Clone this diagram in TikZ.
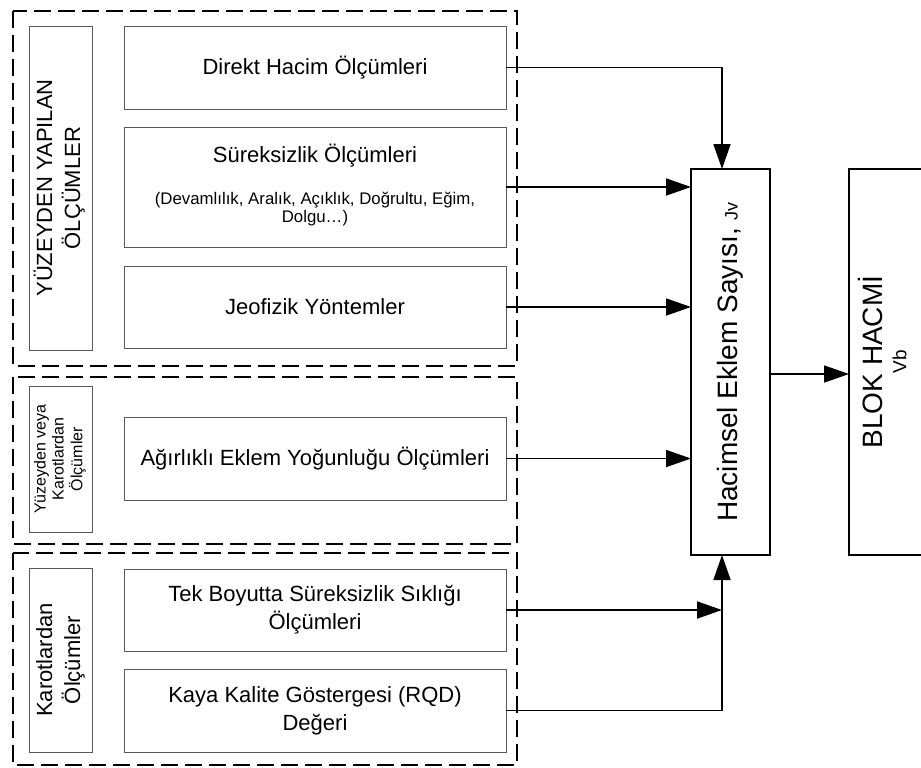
\documentclass[tikz,border=0pt]{standalone}
\usepackage{fontspec}
\setmainfont{Liberation Sans}
\usepackage{graphicx}
\usetikzlibrary{positioning, arrows.meta, calc}
\definecolor{cKUTU}{HTML}{5A5A5A}
\tikzset{
  olcbox/.style={
    draw=cKUTU, line width=0.5pt,
    inner sep=0pt, outer sep=0pt,
    align=center,
    minimum width=191pt,
    minimum height=#1,
    font=\fontsize{11}{14}\selectfont
  },
  labelbox/.style={
    olcbox=#1,
    minimum width=31.5pt
  },
  resultbox/.style={
    draw=black, line width=1pt,
    inner sep=0pt, outer sep=0pt,
    minimum width=39.5pt,
    minimum height=193pt,
    font=\fontsize{14}{16}\selectfont
  },
  groupframe/.style={
    line width=1.35pt,
    dash pattern=on 8.3pt off 3.7pt
  },
  flow/.style={
    -{Triangle[length=12.5pt,width=8.5pt]},
    line width=0.9pt
  }
}
\newcommand{\dikey}[1]{\rotatebox{90}{\begin{tabular}{@{}c@{}}#1\end{tabular}}}
\newcommand{\detay}{\fontsize{8.4}{9}\selectfont}

\begin{document}
\begin{tikzpicture}[x=0.5pt, y=-0.5pt]
  \useasboundingbox (0,0) rectangle (921,767);
  \clip (0,0) rectangle (921,767);

  \draw[groupframe] (13,11) rectangle (517,366);
  \draw[groupframe] (13,377) rectangle (517,544);
  \draw[groupframe] (13,553) rectangle (517,765);

  \node[labelbox=162pt] (yuzey) at (60.5,188) {\dikey{YÜZEYDEN YAPILAN\\ÖLÇÜMLER}};
  \node[labelbox=73pt, font=\fontsize{8}{9}\selectfont] (yuzkarot) at (60.5,459) {\dikey{Yüzeyden veya\\Karotlardan\\Ölçümler}};
  \node[labelbox=92pt] (karot) at (60.5,660) {\dikey{Karotlardan\\Ölçümler}};

  \node[olcbox=41.5pt] (direkt) at (315,67.5) {Direkt Hacim Ölçümleri};
  \node[olcbox=60pt] (sureksiz) at (315,187) {\begin{tabular}{@{}c@{}}Süreksizlik Ölçümleri\\[7pt]{\detay (Devamlılık, Aralık, Açıklık, Doğrultu, Eğim,}\\[-5pt]{\detay Dolgu…)}\end{tabular}};
  \node[olcbox=41pt] (jeofizik) at (315,307) {Jeofizik Yöntemler};
  \node[olcbox=41.5pt] (agirlik) at (315,458.5) {Ağırlıklı Eklem Yoğunluğu Ölçümleri};
  \node[olcbox=41pt] (tekboyut) at (315,610) {Tek Boyutta Süreksizlik Sıklığı\\Ölçümleri};
  \node[olcbox=41.5pt] (kaya) at (315,710.5) {Kaya Kalite Göstergesi (RQD)\\Değeri};

  \node[resultbox] (hacim) at (730.5,362) {\rotatebox{90}{Hacimsel Eklem Sayısı, {\fontsize{9}{10}\selectfont Jv}}};
  \node[resultbox, minimum width=38pt] (blok) at (887,362) {\dikey{BLOK HACMİ\\[-4pt]{\fontsize{9.5}{11}\selectfont Vb}}};

  \coordinate (giris) at ([xshift=-4.25pt]hacim.north);
  \coordinate (cikis) at ([xshift=-4.25pt]hacim.south);

  \draw[flow] (direkt.east) -| (giris);
  \draw[flow] (sureksiz.east) -- (sureksiz.east -| hacim.west);
  \draw[flow] (jeofizik.east) -- (jeofizik.east -| hacim.west);
  \draw[flow] (agirlik.east) -- (agirlik.east -| hacim.west);
  \draw[flow] (tekboyut.east) -- (tekboyut.east -| cikis);
  \draw[flow] (kaya.east) -| (cikis);
  \draw[flow] ([yshift=-6pt]hacim.east) -- ([yshift=-6pt]blok.west);
\end{tikzpicture}
\end{document}
